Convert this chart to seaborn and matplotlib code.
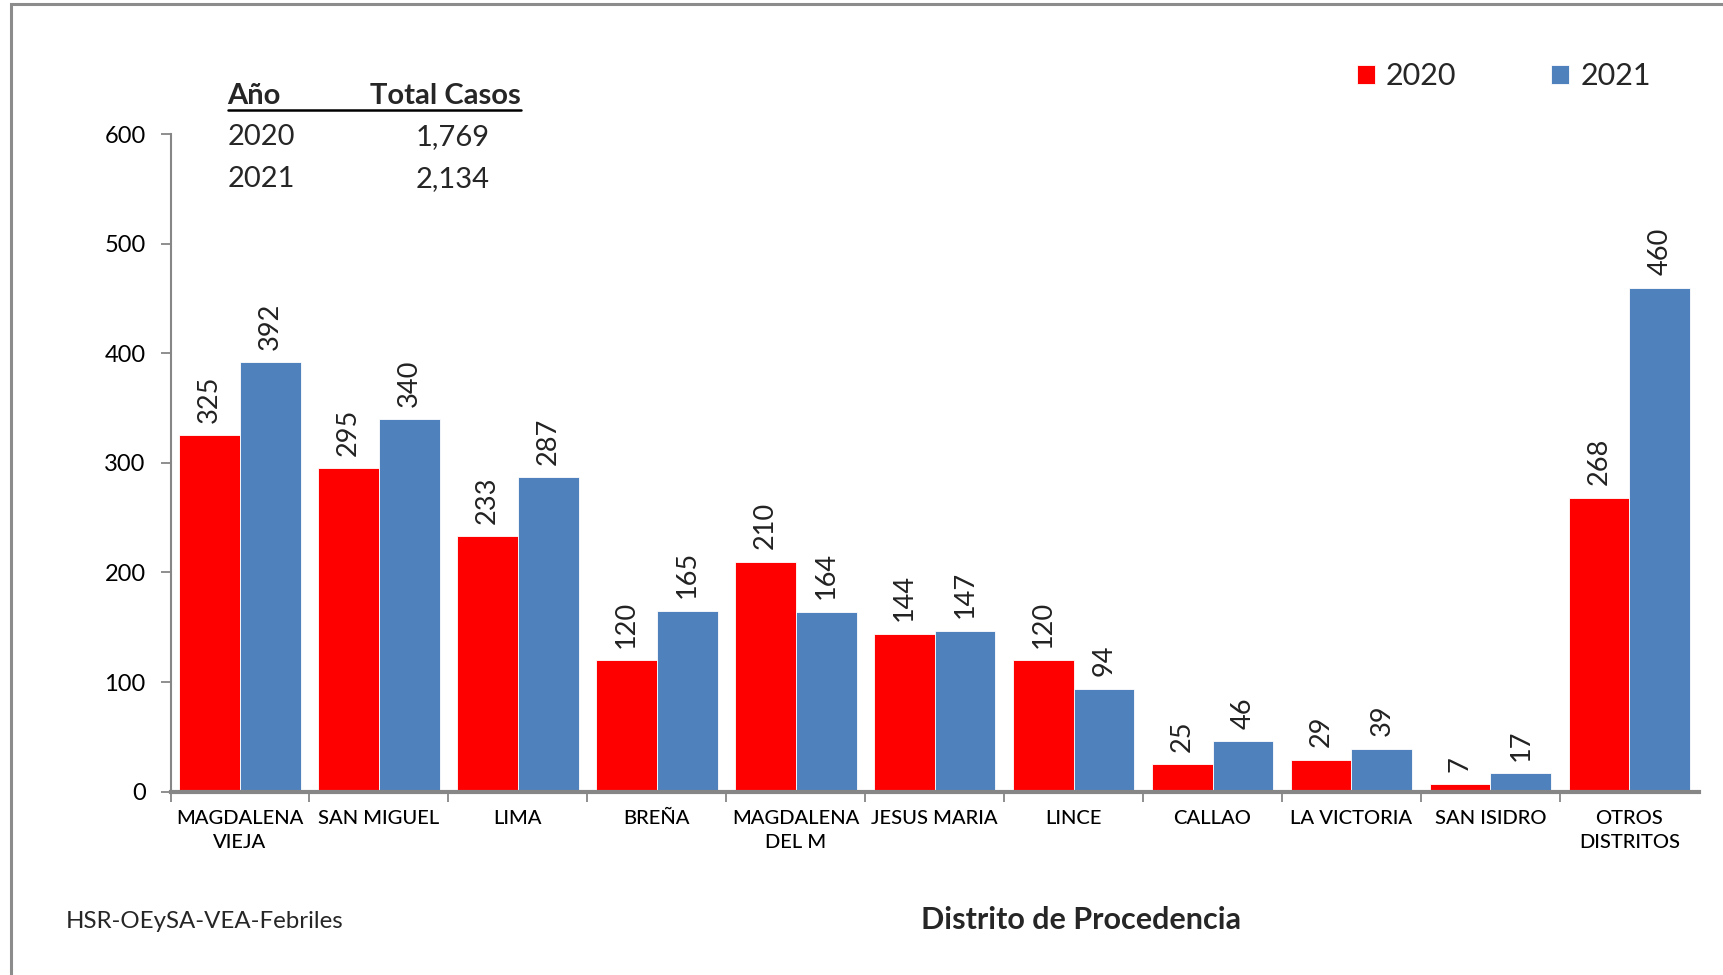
import numpy as np
import pandas as pd
import matplotlib
matplotlib.use("Agg")
import matplotlib.pyplot as plt
from matplotlib.lines import Line2D
from matplotlib.patches import Rectangle
import seaborn as sns

# ---------------- data ----------------
distritos = ["MAGDALENA\nVIEJA", "SAN MIGUEL", "LIMA", "BREÑA", "MAGDALENA\nDEL M",
             "JESUS MARIA", "LINCE", "CALLAO", "LA VICTORIA", "SAN ISIDRO", "OTROS\nDISTRITOS"]
casos_2020 = [325, 295, 233, 120, 210, 144, 120, 25, 29, 7, 268]
casos_2021 = [392, 340, 287, 165, 164, 147, 94, 46, 39, 17, 460]
anios = ["2020", "2021"]
totales = ["1,769", "2,134"]
yticks = [0, 100, 200, 300, 400, 500, 600]

colores = {"2020": "#FF0000", "2021": "#4F81BD"}

df = pd.DataFrame({
    "distrito": distritos * 2,
    "casos": casos_2020 + casos_2021,
    "anio": [anios[0]] * len(distritos) + [anios[1]] * len(distritos),
})

# ---------------- style ----------------
sns.set_theme(style="white")
plt.rcParams["font.family"] = ["Lato", "DejaVu Sans"]

fig = plt.figure(figsize=(17.24, 9.75), dpi=100)
fig.patch.set_facecolor("white")

# outer frame
fig.add_artist(Rectangle((0.0064, -0.2), 1.5, 0.2 + 0.9955, transform=fig.transFigure,
                         fill=False, edgecolor="#8C8C8C", linewidth=2.2))

ax = fig.add_axes([0.0989, 0.188, 0.8865, 0.6745])
sns.barplot(data=df, x="distrito", y="casos", hue="anio", palette=colores,
            hue_order=anios, order=distritos, width=0.875, saturation=1,
            edgecolor="white", linewidth=0.6, ax=ax)

for cont in ax.containers:
    ax.bar_label(cont, rotation=90, padding=9, fontsize=19.5, color="#222222")

handles, labels = ax.get_legend_handles_labels()
if ax.get_legend() is not None:
    ax.get_legend().remove()

ax.set_ylim(0, 600)
ax.set_xlim(-0.5, len(distritos) - 0.5)
ax.set_yticks(yticks)
ax.set_yticklabels([str(v) for v in yticks], fontsize=17, color="black")
ax.set_xlabel("")
ax.set_ylabel("")
ax.tick_params(axis="x", which="major", length=0, pad=13, labelsize=14.5, labelcolor="black")
ax.set_xticks(np.arange(-0.5, len(distritos) - 1, 1), minor=True)
ax.tick_params(axis="x", which="minor", length=7, width=1.3, color="#868686", direction="out", bottom=True)
ax.tick_params(axis="y", which="major", length=7, width=1.3, color="#868686", direction="out", left=True, pad=11)
for lab in ax.get_xticklabels():
    lab.set_linespacing(1.5)
    lab.set_fontweight("medium")

for s in ["top", "right"]:
    ax.spines[s].set_visible(False)
ax.spines["left"].set_color("#868686")
ax.spines["left"].set_linewidth(1.5)
ax.spines["bottom"].set_color("#868686")
ax.spines["bottom"].set_linewidth(3)
ax.grid(False)

# legend
fig.legend(handles, labels, loc="center left", bbox_to_anchor=(0.787, 0.922),
           ncol=2, frameon=False, fontsize=22, handlelength=0.58, handleheight=0.58,
           handletextpad=0.38, columnspacing=3.1, borderpad=0, borderaxespad=0)

# summary table
fig.text(0.132, 0.902, "Año", fontsize=21, fontweight="bold", ha="left", va="center")
fig.text(0.3023, 0.902, "Total Casos", fontsize=21, fontweight="bold", ha="right", va="center")
fig.add_artist(Line2D([0.132, 0.3023], [0.8873, 0.8873], transform=fig.transFigure,
                      color="black", linewidth=1.8))
row_y = [0.859, 0.816]
for a, t, yy in zip(anios, totales, row_y):
    fig.text(0.132, yy, a, fontsize=21, ha="left", va="center")
    fig.text(0.2838, yy, t, fontsize=21, ha="right", va="center")

fig.text(0.0383, 0.0552, "HSR-OEySA-VEA-Febriles", fontsize=17.3, ha="left", va="center")
fig.text(0.627, 0.0564, "Distrito de Procedencia", fontsize=22, fontweight="bold",
         ha="center", va="center")

fig.savefig("out.png", dpi=100, facecolor="white")
